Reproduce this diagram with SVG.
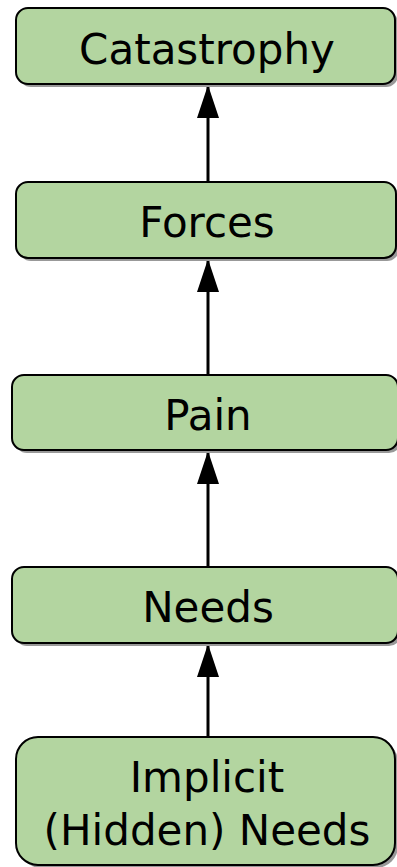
<svg xmlns="http://www.w3.org/2000/svg" width="397" height="867" viewBox="0 0 397 867">
<style>
.box{fill:#b3d5a0;stroke:#000;stroke-width:2}
.sh{fill:#999}
.t{font-family:"DejaVu Sans",Verdana,sans-serif;font-size:42px;fill:#000;text-anchor:middle}
.c{stroke:#000;stroke-width:3;fill:none}
</style>
<defs>
<marker id="ah" markerUnits="userSpaceOnUse" markerWidth="34" markerHeight="24" viewBox="0 0 34 24" refX="33" refY="12" orient="auto">
<path d="M0 1 L33 12 L0 23 Z" fill="#000"/>
</marker>
</defs>
<g id="connectors">
<line class="c" x1="208" y1="182" x2="208" y2="85" marker-end="url(#ah)"/>
<line class="c" x1="208" y1="375" x2="208" y2="259" marker-end="url(#ah)"/>
<line class="c" x1="208" y1="567" x2="208" y2="451" marker-end="url(#ah)"/>
<line class="c" x1="208" y1="737" x2="208" y2="644" marker-end="url(#ah)"/>
</g>
<g id="catastrophy">
<rect class="sh" x="19" y="11" width="379" height="76" rx="12"/>
<rect class="box" x="16" y="8" width="379" height="76" rx="12"/>
<text class="t" x="207" y="64">Catastrophy</text>
</g>
<g id="forces">
<rect class="sh" x="19" y="185" width="380" height="76" rx="12"/>
<rect class="box" x="16" y="182" width="380" height="76" rx="12"/>
<text class="t" x="207" y="237">Forces</text>
</g>
<g id="pain">
<rect class="sh" x="15" y="378" width="386" height="75" rx="12"/>
<rect class="box" x="12" y="375" width="386" height="75" rx="12"/>
<text class="t" x="208" y="430">Pain</text>
</g>
<g id="needs">
<rect class="sh" x="15" y="570" width="386" height="76" rx="12"/>
<rect class="box" x="12" y="567" width="386" height="76" rx="12"/>
<text class="t" x="208" y="622">Needs</text>
</g>
<g id="implicit">
<rect class="sh" x="19" y="740" width="379" height="128" rx="22"/>
<rect class="box" x="16" y="737" width="379" height="128" rx="22"/>
<text class="t" x="207" y="792">Implicit</text>
<text class="t" x="207" y="845">(Hidden) Needs</text>
</g>
</svg>
